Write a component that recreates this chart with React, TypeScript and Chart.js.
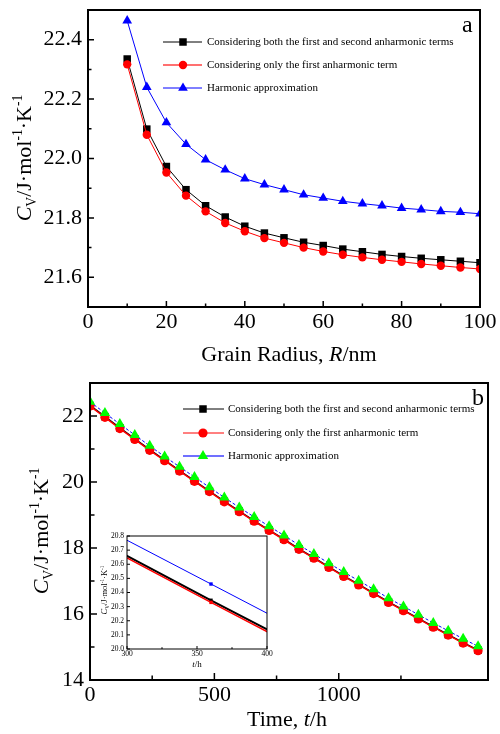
import React, { useEffect, useRef } from 'react';
import { Chart, registerables } from 'chart.js';

Chart.register(...registerables);

const FONT = "'Liberation Serif', 'Times New Roman', Times, serif";

// ---------- Panel a : Cv vs grain radius ----------
const aRadius = [10, 15, 20, 25, 30, 35, 40, 45, 50, 55, 60, 65, 70, 75, 80, 85, 90, 95, 100];
const aBoth = [22.335, 22.099, 21.973, 21.895, 21.841, 21.803, 21.772, 21.749, 21.733, 21.718, 21.707, 21.695, 21.686, 21.677, 21.670, 21.664, 21.659, 21.654, 21.649];
const aFirst = [22.317, 22.080, 21.953, 21.875, 21.822, 21.783, 21.755, 21.732, 21.716, 21.700, 21.687, 21.676, 21.667, 21.659, 21.652, 21.645, 21.639, 21.633, 21.628];
const aHarm = [22.464, 22.240, 22.121, 22.048, 21.996, 21.962, 21.932, 21.912, 21.895, 21.878, 21.867, 21.856, 21.848, 21.841, 21.833, 21.828, 21.822, 21.819, 21.814];

// ---------- Panel b : Cv vs time ----------
const bTime = [0, 60, 120, 180, 240, 300, 360, 420, 480, 540, 600, 660, 720, 780, 840, 900, 960, 1020, 1080, 1140, 1200, 1260, 1320, 1380, 1440, 1500, 1560];
const bBoth = [22.32, 21.98, 21.64, 21.31, 20.98, 20.66, 20.345, 20.035, 19.725, 19.415, 19.115, 18.825, 18.545, 18.265, 17.975, 17.705, 17.425, 17.155, 16.895, 16.635, 16.365, 16.115, 15.865, 15.615, 15.375, 15.135, 14.905];
const bFirst = [22.30, 21.96, 21.62, 21.29, 20.96, 20.645, 20.33, 20.02, 19.71, 19.40, 19.10, 18.81, 18.53, 18.25, 17.96, 17.69, 17.41, 17.14, 16.88, 16.62, 16.35, 16.10, 15.85, 15.60, 15.36, 15.12, 14.89];
const bHarm = [22.43, 22.09, 21.755, 21.425, 21.095, 20.77, 20.46, 20.15, 19.84, 19.53, 19.23, 18.94, 18.66, 18.38, 18.09, 17.82, 17.54, 17.27, 17.01, 16.75, 16.48, 16.23, 15.98, 15.73, 15.49, 15.25, 15.02];

// ---------- Labels ----------
const legendLabels = [
  'Considering both the first and second anharmonic terms',
  'Considering only the first anharmonic term',
  'Harmonic approximation',
];

type Seg = { t: string; it?: boolean; sub?: boolean; sup?: boolean };
const cvTitle: Seg[] = [
  { t: 'C', it: true }, { t: 'V', sub: true }, { t: '/J·mol' }, { t: '-1', sup: true }, { t: '·K' }, { t: '-1', sup: true },
];
const aXTitle: Seg[] = [{ t: 'Grain Radius, ' }, { t: 'R', it: true }, { t: '/nm' }];
const bXTitle: Seg[] = [{ t: 'Time, ' }, { t: 't', it: true }, { t: '/h' }];
const insetXTitle: Seg[] = [{ t: 't', it: true }, { t: '/h' }];

const isMult = (v: number, m: number) => Math.abs(v / m - Math.round(v / m)) < 1e-6;
const pts = (xs: number[], ys: number[]) => xs.map((x, i) => ({ x, y: ys[i] }));

function segFont(s: Seg, size: number) {
  const sz = s.sub || s.sup ? size * 0.62 : size;
  return `${s.it ? 'italic ' : ''}${sz}px ${FONT}`;
}

function drawRich(ctx: CanvasRenderingContext2D, segs: Seg[], x: number, y: number, size: number, rotate: boolean) {
  ctx.save();
  ctx.translate(x, y);
  if (rotate) ctx.rotate(-Math.PI / 2);
  ctx.textBaseline = 'alphabetic';
  ctx.textAlign = 'left';
  ctx.fillStyle = '#000';
  const widths = segs.map((s) => {
    ctx.font = segFont(s, size);
    return ctx.measureText(s.t).width;
  });
  const total = widths.reduce((a, b) => a + b, 0);
  let cx = -total / 2;
  segs.forEach((s, i) => {
    ctx.font = segFont(s, size);
    const dy = s.sub ? size * 0.22 : s.sup ? -size * 0.4 : 0;
    ctx.fillText(s.t, cx, dy);
    cx += widths[i];
  });
  ctx.restore();
}

function drawMarker(ctx: CanvasRenderingContext2D, style: string, x: number, y: number, r: number, color: string) {
  ctx.save();
  ctx.fillStyle = color;
  ctx.beginPath();
  if (style === 'rect') {
    const s = r * Math.SQRT1_2;
    ctx.rect(x - s, y - s, 2 * s, 2 * s);
  } else if (style === 'circle') {
    ctx.arc(x, y, r, 0, Math.PI * 2);
  } else {
    ctx.moveTo(x, y - r);
    ctx.lineTo(x + 0.866 * r, y + 0.5 * r);
    ctx.lineTo(x - 0.866 * r, y + 0.5 * r);
    ctx.closePath();
  }
  ctx.fill();
  ctx.restore();
}

type LegendRow = { line: string; lw: number; marker: string; mColor: string; r: number; text: string };

function framePlugin(o: { xMajor: number; yMajor: number; major: number; minor: number; lw: number; tickW: number }) {
  return {
    id: 'frame',
    afterDatasetsDraw(chart: any) {
      const { ctx, chartArea } = chart;
      const { left, right, top, bottom } = chartArea;
      ctx.save();
      ctx.strokeStyle = '#000';
      ctx.lineWidth = o.tickW;
      const xs = chart.scales.x;
      const ys = chart.scales.y;
      ctx.beginPath();
      xs.ticks.forEach((t: any) => {
        const v = t.value;
        const maj = isMult(v, o.xMajor);
        if (!maj && (Math.abs(v - xs.max) < 1e-9 || Math.abs(v - xs.min) < 1e-9)) return;
        const p = xs.getPixelForValue(v);
        ctx.moveTo(p, bottom);
        ctx.lineTo(p, bottom - (maj ? o.major : o.minor));
      });
      ys.ticks.forEach((t: any) => {
        const v = t.value;
        const maj = isMult(v, o.yMajor);
        if (!maj && (Math.abs(v - ys.max) < 1e-9 || Math.abs(v - ys.min) < 1e-9)) return;
        const p = ys.getPixelForValue(v);
        ctx.moveTo(left, p);
        ctx.lineTo(left + (maj ? o.major : o.minor), p);
      });
      ctx.stroke();
      ctx.lineWidth = o.lw;
      ctx.strokeRect(left, top, right - left, bottom - top);
      ctx.restore();
    },
  };
}

function decorPlugin(o: {
  yTitle: Seg[]; yTitleX: number; yTitleY: number; yTitleSize: number;
  xTitle: Seg[]; xTitleX: number; xTitleY: number; xTitleSize: number;
  letter?: string; letterX?: number; letterY?: number;
  legend?: { rows: LegendRow[]; x1: number; x2: number; mx: number; tx: number; ys: number[] };
  whiteArea?: boolean;
}) {
  return {
    id: 'decor',
    beforeDatasetsDraw(chart: any) {
      if (!o.whiteArea) return;
      const { ctx, chartArea } = chart;
      ctx.save();
      ctx.fillStyle = '#fff';
      ctx.fillRect(chartArea.left, chartArea.top, chartArea.right - chartArea.left, chartArea.bottom - chartArea.top);
      ctx.restore();
    },
    afterDraw(chart: any) {
      const ctx: CanvasRenderingContext2D = chart.ctx;
      drawRich(ctx, o.yTitle, o.yTitleX, o.yTitleY, o.yTitleSize, true);
      drawRich(ctx, o.xTitle, o.xTitleX, o.xTitleY, o.xTitleSize, false);
      if (o.letter) {
        ctx.save();
        ctx.font = `24px ${FONT}`;
        ctx.fillStyle = '#000';
        ctx.textBaseline = 'alphabetic';
        ctx.fillText(o.letter, o.letterX!, o.letterY!);
        ctx.restore();
      }
      if (o.legend) {
        const L = o.legend;
        L.rows.forEach((r, i) => {
          const y = L.ys[i];
          ctx.save();
          ctx.strokeStyle = r.line;
          ctx.lineWidth = r.lw;
          ctx.beginPath();
          ctx.moveTo(L.x1, y);
          ctx.lineTo(L.x2, y);
          ctx.stroke();
          ctx.restore();
          drawMarker(ctx, r.marker, L.mx, y, r.r, r.mColor);
          ctx.save();
          ctx.font = `11px ${FONT}`;
          ctx.fillStyle = '#000';
          ctx.textBaseline = 'middle';
          ctx.textAlign = 'left';
          ctx.fillText(r.text, L.tx, y + 0.5);
          ctx.restore();
        });
      }
    },
  };
}

function axis(o: { min: number; max: number; step: number; label: (v: number) => string; size: number; pad: number; fit: number; horizontal: boolean }) {
  return {
    type: 'linear' as const,
    min: o.min,
    max: o.max,
    grid: { display: false, drawTicks: false },
    border: { display: false },
    ticks: {
      stepSize: o.step,
      autoSkip: false,
      maxRotation: 0,
      minRotation: 0,
      padding: o.pad,
      color: '#000',
      maxTicksLimit: 100,
      font: { family: FONT, size: o.size },
      callback: (v: any) => o.label(Number(v)),
    },
    afterFit: (s: any) => {
      if (o.horizontal) s.height = o.fit;
      else s.width = o.fit;
      s.paddingLeft = 0;
      s.paddingRight = 0;
      s.paddingTop = 0;
      s.paddingBottom = 0;
    },
  };
}

const baseOpts = {
  responsive: false,
  animation: false as const,
  events: [] as any[],
  plugins: { legend: { display: false }, tooltip: { enabled: false }, title: { display: false } },
};

function configA(): any {
  return {
    type: 'line',
    data: {
      datasets: [
        { data: pts(aRadius, aBoth), borderColor: '#000', borderWidth: 1, pointStyle: 'rect', pointRadius: 5.3, pointBackgroundColor: '#000', pointBorderColor: '#000', pointBorderWidth: 0, order: 3 },
        { data: pts(aRadius, aFirst), borderColor: '#ff0000', borderWidth: 1, pointStyle: 'circle', pointRadius: 4.2, pointBackgroundColor: '#ff0000', pointBorderColor: '#ff0000', pointBorderWidth: 0, order: 2 },
        { data: pts(aRadius, aHarm), borderColor: '#0000ff', borderWidth: 1, pointStyle: 'triangle', pointRadius: 5.6, pointBackgroundColor: '#0000ff', pointBorderColor: '#0000ff', pointBorderWidth: 0, order: 1 },
      ],
    },
    options: {
      ...baseOpts,
      layout: { padding: { top: 10, right: 20, left: 0, bottom: 0 } },
      scales: {
        x: axis({ min: 0, max: 100, step: 10, label: (v) => (isMult(v, 20) ? String(v) : ''), size: 22, pad: 2, fit: 63, horizontal: true }),
        y: axis({ min: 21.5, max: 22.5, step: 0.1, label: (v) => (isMult(v, 0.2) ? v.toFixed(1) : ''), size: 22, pad: 6, fit: 88, horizontal: false }),
      },
    },
    plugins: [
      framePlugin({ xMajor: 20, yMajor: 0.2, major: 6, minor: 3.5, lw: 2, tickW: 1.5 }),
      decorPlugin({
        yTitle: cvTitle, yTitleX: 31, yTitleY: 158, yTitleSize: 22,
        xTitle: aXTitle, xTitleX: 289, xTitleY: 361, xTitleSize: 22,
        letter: 'a', letterX: 462, letterY: 32,
        legend: {
          rows: [
            { line: '#000', lw: 1, marker: 'rect', mColor: '#000', r: 5.3, text: legendLabels[0] },
            { line: '#ff7070', lw: 2, marker: 'circle', mColor: '#ff0000', r: 4.2, text: legendLabels[1] },
            { line: '#0000ff', lw: 1, marker: 'triangle', mColor: '#0000ff', r: 5.6, text: legendLabels[2] },
          ],
          x1: 163, x2: 202, mx: 183, tx: 207, ys: [42, 65, 88],
        },
      }),
    ],
  };
}

function configB(): any {
  return {
    type: 'line',
    data: {
      datasets: [
        { data: pts(bTime, bBoth), borderColor: '#000', borderWidth: 1.5, pointStyle: 'rect', pointRadius: 5.3, pointBackgroundColor: '#000', pointBorderColor: '#000', pointBorderWidth: 0, order: 3 },
        { data: pts(bTime, bFirst), borderColor: '#ff0000', borderWidth: 1.5, pointStyle: 'circle', pointRadius: 4.6, pointBackgroundColor: '#ff0000', pointBorderColor: '#ff0000', pointBorderWidth: 0, order: 2 },
        { data: pts(bTime, bHarm), borderColor: '#0000ff', borderWidth: 1, borderDash: [3, 2], pointStyle: 'triangle', pointRadius: 6, pointBackgroundColor: '#00ff00', pointBorderColor: '#00ff00', pointBorderWidth: 0, order: 1 },
      ],
    },
    options: {
      ...baseOpts,
      layout: { padding: { top: 13, right: 12, left: 0, bottom: 0 } },
      scales: {
        x: axis({ min: 0, max: 1600, step: 250, label: (v) => (isMult(v, 500) ? String(v) : ''), size: 22, pad: 2, fit: 54, horizontal: true }),
        y: axis({ min: 14, max: 23, step: 1, label: (v) => (isMult(v, 2) ? String(v) : ''), size: 22, pad: 6, fit: 90, horizontal: false }),
      },
    },
    plugins: [
      framePlugin({ xMajor: 500, yMajor: 2, major: 7, minor: 4.5, lw: 2, tickW: 1.5 }),
      decorPlugin({
        yTitle: cvTitle, yTitleX: 48, yTitleY: 161, yTitleSize: 22,
        xTitle: bXTitle, xTitleX: 287, xTitleY: 356, xTitleSize: 22,
        letter: 'b', letterX: 472, letterY: 35,
        legend: {
          rows: [
            { line: '#000', lw: 1, marker: 'rect', mColor: '#000', r: 5.3, text: legendLabels[0] },
            { line: '#ff0000', lw: 1, marker: 'circle', mColor: '#ff0000', r: 4.6, text: legendLabels[1] },
            { line: '#7070ff', lw: 2, marker: 'triangle', mColor: '#00ff00', r: 6, text: legendLabels[2] },
          ],
          x1: 183, x2: 224, mx: 203, tx: 228, ys: [39, 63, 86],
        },
      }),
    ],
  };
}

function configInset(): any {
  const r = (c: any) => (bTime[c.dataIndex] === 360 ? 2.4 : 0);
  return {
    type: 'line',
    data: {
      datasets: [
        { data: pts(bTime, bBoth), borderColor: '#000', borderWidth: 2, pointStyle: 'rect', pointRadius: r, pointBackgroundColor: '#000', pointBorderWidth: 0, order: 3 },
        { data: pts(bTime, bFirst), borderColor: '#ff0000', borderWidth: 1.5, pointStyle: 'rect', pointRadius: r, pointBackgroundColor: '#ff0000', pointBorderWidth: 0, order: 2 },
        { data: pts(bTime, bHarm), borderColor: '#0000ff', borderWidth: 1, pointStyle: 'rect', pointRadius: r, pointBackgroundColor: '#0000ff', pointBorderWidth: 0, order: 1 },
      ],
    },
    options: {
      ...baseOpts,
      layout: { padding: { top: 12, right: 7, left: 0, bottom: 0 } },
      scales: {
        x: axis({ min: 300, max: 400, step: 25, label: (v) => (isMult(v, 50) ? String(v) : ''), size: 7.5, pad: 1, fit: 25, horizontal: true }),
        y: axis({ min: 20.0, max: 20.8, step: 0.1, label: (v) => v.toFixed(1), size: 7.5, pad: 3, fit: 35, horizontal: false }),
      },
    },
    plugins: [
      framePlugin({ xMajor: 50, yMajor: 0.1, major: 3, minor: 1.8, lw: 1, tickW: 1 }),
      decorPlugin({
        yTitle: cvTitle, yTitleX: 15, yTitleY: 66, yTitleSize: 8.5,
        xTitle: insetXTitle, xTitleX: 105, xTitleY: 143, xTitleSize: 9,
        whiteArea: true,
      }),
    ],
  };
}

export default function App() {
  const aRef = useRef<HTMLCanvasElement>(null);
  const bRef = useRef<HTMLCanvasElement>(null);
  const iRef = useRef<HTMLCanvasElement>(null);
  useEffect(() => {
    const charts = [
      new Chart(aRef.current as HTMLCanvasElement, configA()),
      new Chart(bRef.current as HTMLCanvasElement, configB()),
      new Chart(iRef.current as HTMLCanvasElement, configInset()),
    ];
    return () => charts.forEach((c) => c.destroy());
  }, []);
  return (
    <div style={{ position: 'absolute', left: 0, top: 0, width: 500, height: 734, background: '#fff', overflow: 'hidden' }}>
      <canvas ref={aRef} width={500} height={370} style={{ position: 'absolute', left: 0, top: 0, width: 500, height: 370 }} />
      <canvas ref={bRef} width={500} height={364} style={{ position: 'absolute', left: 0, top: 370, width: 500, height: 364 }} />
      <canvas ref={iRef} width={182} height={150} style={{ position: 'absolute', left: 92, top: 524, width: 182, height: 150 }} />
    </div>
  );
}
